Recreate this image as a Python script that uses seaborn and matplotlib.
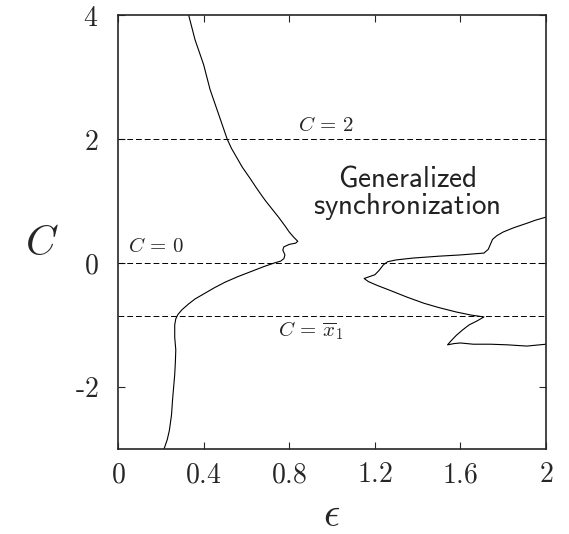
import numpy as np
import pandas as pd
import matplotlib
matplotlib.use('Agg')
import matplotlib.pyplot as plt
import seaborn as sns

# boundary of the synchronization region, left branch (read from top to bottom)
left_eps = [0.33, 0.345, 0.36, 0.38, 0.40, 0.415, 0.43, 0.45, 0.47, 0.49, 0.51, 0.53,
            0.555, 0.58, 0.60, 0.62, 0.645, 0.655, 0.665, 0.69, 0.72, 0.75, 0.78, 0.80,
            0.82, 0.84, 0.83, 0.80, 0.775, 0.77, 0.78, 0.775, 0.76, 0.73, 0.68, 0.62,
            0.56, 0.50, 0.45, 0.40, 0.36, 0.33, 0.30, 0.28, 0.27, 0.265, 0.265, 0.27,
            0.268, 0.265, 0.26, 0.255, 0.25, 0.24, 0.23, 0.215]
left_C = [4.0, 3.8, 3.6, 3.4, 3.2, 3.0, 2.8, 2.6, 2.4, 2.2, 2.0, 1.85,
          1.7, 1.55, 1.45, 1.35, 1.22, 1.17, 1.12, 1.0, 0.87, 0.74, 0.6, 0.5,
          0.42, 0.35, 0.32, 0.30, 0.26, 0.21, 0.13, 0.07, 0.03, 0.0, -0.06, -0.14,
          -0.22, -0.31, -0.40, -0.50, -0.58, -0.66, -0.75, -0.83, -0.9, -1.0, -1.2, -1.4,
          -1.6, -1.8, -2.0, -2.2, -2.45, -2.7, -2.85, -3.0]

# right branch (from top right, around the tongue, back to the right edge)
right_eps = [2.0, 1.95, 1.91, 1.85, 1.80, 1.77, 1.75, 1.74, 1.73, 1.71, 1.60, 1.50,
             1.38, 1.30, 1.26, 1.24, 1.22, 1.20, 1.15, 1.17, 1.21, 1.27, 1.35, 1.43,
             1.50, 1.58, 1.65, 1.71, 1.68, 1.64, 1.61, 1.58, 1.555, 1.54, 1.57, 1.60,
             1.66, 1.74, 1.82, 1.91, 2.0]
right_C = [0.74, 0.69, 0.64, 0.57, 0.50, 0.44, 0.38, 0.30, 0.22, 0.16, 0.13, 0.11,
           0.08, 0.05, 0.02, -0.03, -0.12, -0.19, -0.25, -0.30, -0.36, -0.44, -0.55, -0.65,
           -0.72, -0.79, -0.84, -0.87, -0.93, -1.0, -1.08, -1.17, -1.26, -1.32, -1.30, -1.29,
           -1.31, -1.31, -1.32, -1.34, -1.31]

ref_levels = [2.0, 0.0, -0.85]
ref_labels = [r'$C\,=\,2$', r'$C\,=\,0$', r'$C\,=\,\overline{x}_1$']
ref_label_eps = [0.97, 0.18, 0.90]
ref_label_C = [2.22, 0.27, -1.09]

xticks = [0, 0.4, 0.8, 1.2, 1.6, 2]
xticklabels = ['$0$', '$0.4$', '$0.8$', '$1.2$', '$1.6$', '$2$']
yticks = [4, 2, 0, -2]
yticklabels = ['$4$', '$2$', '$0$', r'$\text{-}2$']

sns.set_style('ticks')
plt.rcParams['mathtext.fontset'] = 'cm'
plt.rcParams['font.family'] = ['DejaVu Serif']

fig = plt.figure(figsize=(5.69, 5.34), dpi=100)
ax = fig.add_axes([0.2074, 0.1592, 0.7522, 0.8127])

left = pd.DataFrame({'eps': left_eps, 'C': left_C})
right = pd.DataFrame({'eps': right_eps, 'C': right_C})
sns.lineplot(data=left, x='eps', y='C', sort=False, estimator=None, color='black', lw=0.8, ax=ax)
sns.lineplot(data=right, x='eps', y='C', sort=False, estimator=None, color='black', lw=0.8, ax=ax)

for lev in ref_levels:
    ax.axhline(lev, color='black', lw=0.7, dashes=(6, 3))
for lab, xe, yc in zip(ref_labels, ref_label_eps, ref_label_C):
    ax.text(xe, yc, lab, ha='center', va='center', fontsize=15)

ax.text(1.35, 1.13, r'$\mathsf{Generalized}$' + '\n' + r'$\mathsf{synchronization}$',
        ha='center', va='center', fontsize=21, linespacing=0.95, color='#222222')

ax.set_xlim(0, 2)
ax.set_ylim(-3, 4)
ax.set_xticks(xticks)
ax.set_xticklabels(xticklabels, fontsize=20)
ax.set_yticks(yticks)
ax.set_yticklabels(yticklabels, fontsize=20)
ax.tick_params(direction='in', length=5, width=0.8, top=True, right=True)
ax.tick_params(axis='x', pad=9)
ax.tick_params(axis='y', pad=14)
for s in ax.spines.values():
    s.set_linewidth(1.2)

ax.set_xlabel(r'$\epsilon$', fontsize=29, va='baseline')
ax.set_ylabel(r'$C$', fontsize=30, rotation=0, va='center', ha='center')
ax.xaxis.set_label_coords(0.5, -0.178)
ax.yaxis.set_label_coords(-0.178, 0.475)

fig.savefig('out.png', dpi=100)
